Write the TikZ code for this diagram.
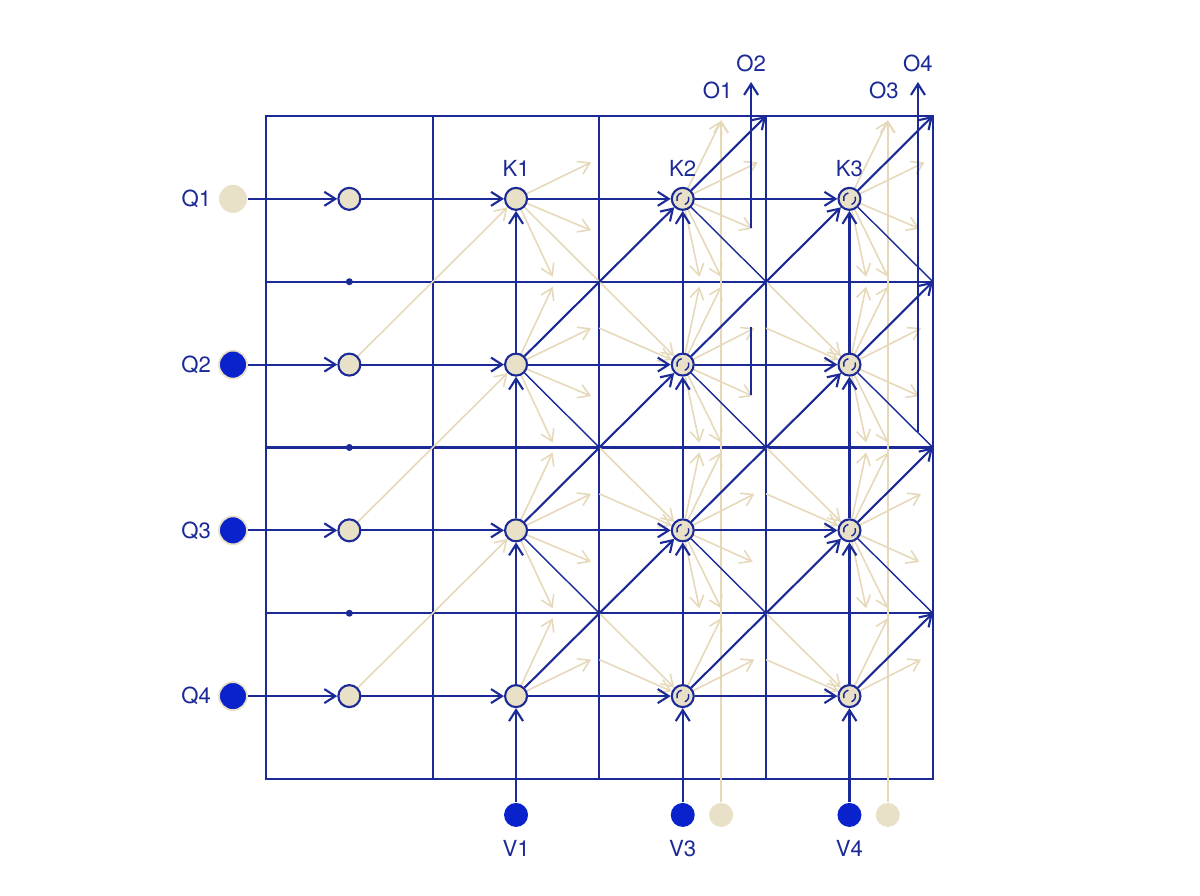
\documentclass[tikz,border=0pt]{standalone}
\usepackage{fontspec}
\setmainfont{TeX Gyre Heros}
\usetikzlibrary{arrows.meta, positioning, backgrounds}

\definecolor{navy}{HTML}{1B2A96}
\definecolor{deepblue}{HTML}{0A22CC}
\definecolor{sand}{HTML}{E9E0C8}
\definecolor{sandline}{HTML}{E6D9BA}

\begin{document}
\begin{tikzpicture}[x=1.667cm, y=1.6575cm,
	>={Straight Barb[length=1.1mm,width=1.4mm]},
	wire/.style={draw=navy, line width=0.6pt},
	thinwire/.style={draw=navy, line width=0.4pt},
	fan/.style={draw=sandline, line width=0.45pt},
	cell/.style={circle, draw=navy, fill=sand, line width=0.6pt, minimum size=2.2mm, inner sep=0pt},
	ring/.style={cell, path picture={
		\draw[navy, line width=0.4pt] ([shift={(100:0.6mm)}]path picture bounding box.center) arc[start angle=100, end angle=200, radius=0.6mm];
		\draw[navy, line width=0.4pt] ([shift={(-70:0.6mm)}]path picture bounding box.center) arc[start angle=-70, end angle=20, radius=0.6mm];}},
	qdot/.style={circle, minimum size=2.8mm, inner sep=0pt},
	vdot/.style={circle, minimum size=2.4mm, inner sep=0pt},
	joint/.style={circle, fill=navy, minimum size=0.7mm, inner sep=0pt},
	lbl/.style={text=navy, font=\fontsize{6.3}{7.5}\selectfont, inner sep=1pt}]

	\useasboundingbox (-1.5957,-0.7059) rectangle (5.6029,4.6998);

	% inputs on the left
	\node[qdot, fill=sand] (q1) at (-0.198,3.5) {};
	\node[qdot, fill=deepblue, draw=sand, line width=0.5pt] (q2) at (-0.198,2.5) {};
	\node[qdot, fill=deepblue, draw=sand, line width=0.5pt] (q3) at (-0.198,1.5) {};
	\node[qdot, fill=deepblue, draw=sand, line width=0.5pt] (q4) at (-0.198,0.5) {};
	\node[lbl, left=0.3mm of q1] (lq1) {Q1};
	\node[lbl, left=0.3mm of q2] (lq2) {Q2};
	\node[lbl, left=0.3mm of q3] (lq3) {Q3};
	\node[lbl, left=0.3mm of q4] (lq4) {Q4};

	% first column
	\node[cell] (a1) at (0.5,3.5) {};
	\node[cell] (a2) at (0.5,2.5) {};
	\node[cell] (a3) at (0.5,1.5) {};
	\node[cell] (a4) at (0.5,0.5) {};
	\node[joint] (j1) at (0.5,3) {};
	\node[joint] (j2) at (0.5,2) {};
	\node[joint] (j3) at (0.5,1) {};

	% K columns
	\node[cell] (b1) at (1.5,3.5) {};
	\node[cell] (b2) at (1.5,2.5) {};
	\node[cell] (b3) at (1.5,1.5) {};
	\node[cell] (b4) at (1.5,0.5) {};
	\node[ring] (c1) at (2.5,3.5) {};
	\node[ring] (c2) at (2.5,2.5) {};
	\node[ring] (c3) at (2.5,1.5) {};
	\node[ring] (c4) at (2.5,0.5) {};
	\node[ring] (d1) at (3.5,3.5) {};
	\node[ring] (d2) at (3.5,2.5) {};
	\node[ring] (d3) at (3.5,1.5) {};
	\node[ring] (d4) at (3.5,0.5) {};
	\node[lbl, above=0.6mm of b1] (k1) {K1};
	\node[lbl, above=0.6mm of c1] (k2) {K2};
	\node[lbl, above=0.6mm of d1] (k3) {K3};

	% inputs at the bottom
	\node[vdot, fill=deepblue] (v1) at (1.5,-0.217) {};
	\node[vdot, fill=deepblue] (v3) at (2.5,-0.217) {};
	\node[vdot, fill=deepblue] (v4) at (3.5,-0.217) {};
	\node[vdot, fill=sand] (w3) at (2.73,-0.217) {};
	\node[vdot, fill=sand] (w4) at (3.73,-0.217) {};
	\node[lbl, below=0.8mm of v1] (lv1) {V1};
	\node[lbl, below=0.8mm of v3] (lv3) {V3};
	\node[lbl, below=0.8mm of v4] (lv4) {V4};

	% outputs at the top
	\node[lbl] (lo1) at (2.71,4.157) {O1};
	\node[lbl] (lo2) at (2.91,4.32) {O2};
	\node[lbl] (lo3) at (3.707,4.157) {O3};
	\node[lbl] (lo4) at (3.911,4.32) {O4};

	\coordinate (o2top) at (2.91,4.205);
	\coordinate (o2bot) at (2.91,3.324);
	\coordinate (o2a) at (2.91,2.727);
	\coordinate (o2b) at (2.91,2.317);
	\coordinate (o4top) at (3.911,4.205);
	\coordinate (o4bot) at (3.911,2.094);
	\coordinate (w3top) at (2.73,3.976);
	\coordinate (w4top) at (3.73,3.976);

	\coordinate (m21) at (2,1);
	\coordinate (m22) at (2,2);
	\coordinate (m23) at (2,3);
	\coordinate (m31) at (3,1);
	\coordinate (m32) at (3,2);
	\coordinate (m33) at (3,3);
	\coordinate (m34) at (3,4);
	\coordinate (m41) at (4,1);
	\coordinate (m42) at (4,2);
	\coordinate (m43) at (4,3);
	\coordinate (m44) at (4,4);

	\begin{scope}[on background layer]
		% the grid
		\draw[wire] (0,0) rectangle (4,4);
		\draw[wire] (1,0) -- (1,4);
		\draw[wire] (2,0) -- (2,4);
		\draw[wire] (3,0) -- (3,4);
		\draw[wire] (0,1) -- (4,1);
		\draw[wire] (0,2) -- (4,2);
		\draw[wire] (0,3) -- (4,3);

		% sand lines
		\draw[fan, line width=0.6pt, ->] (w3) -- (w3top);
		\draw[fan, line width=0.6pt, ->] (w4) -- (w4top);
		\draw[fan, ->] (a2) -- (b1);
		\draw[fan, ->] (a3) -- (b2);
		\draw[fan, ->] (a4) -- (b3);
		\draw[fan] (b1) -- (m23);
		\draw[fan, ->] (m23) -- (c2);
		\draw[fan, ->] (m22) -- (c3);
		\draw[fan, ->] (m21) -- (c4);
		\draw[fan, ->] (m33) -- (d2);
		\draw[fan, ->] (m32) -- (d3);
		\draw[fan, ->] (m31) -- (d4);
		\draw[fan, <-] (c2) -- ++(-0.5,0.22);
		\draw[fan, <-] (c3) -- ++(-0.5,0.22);
		\draw[fan, <-] (c4) -- ++(-0.5,0.22);
		\draw[fan, <-] (d2) -- ++(-0.5,0.22);
		\draw[fan, <-] (d3) -- ++(-0.5,0.22);
		\draw[fan, <-] (d4) -- ++(-0.5,0.22);

		\foreach \dx/\dy in {0.45/0.22, 0.45/-0.19, 0.22/-0.47}
			\draw[fan, ->] (b1) -- ++(\dx,\dy);
		\foreach \n in {b2, b3}
			\foreach \dx/\dy in {0.22/0.47, 0.45/0.22, 0.45/-0.19, 0.22/-0.47}
				\draw[fan, ->] (\n) -- ++(\dx,\dy);
		\foreach \dx/\dy in {0.22/0.47, 0.45/0.22}
			\draw[fan, ->] (b4) -- ++(\dx,\dy);
		\foreach \n in {c1, d1}
			\foreach \dx/\dy in {0.23/0.47, 0.45/0.22, 0.42/-0.18, 0.1/-0.47, 0.23/-0.47}
				\draw[fan, ->] (\n) -- ++(\dx,\dy);
		\foreach \n in {c2, c3, d2, d3}
			\foreach \dx/\dy in {0.1/0.47, 0.23/0.47, 0.43/0.22, 0.42/-0.19, 0.1/-0.47, 0.23/-0.47}
				\draw[fan, ->] (\n) -- ++(\dx,\dy);
		\foreach \n in {c4, d4}
			\foreach \dx/\dy in {0.23/0.47, 0.43/0.22}
				\draw[fan, ->] (\n) -- ++(\dx,\dy);

		% blue connectors
		\foreach \r in {1,...,4} {
			\draw[wire, ->] (q\r) -- (a\r);
			\draw[wire, ->] (a\r) -- (b\r);
			\draw[wire, ->] (b\r) -- (c\r);
			\draw[wire, ->] (c\r) -- (d\r);
		}
		\draw[wire, ->] (v1) -- (b4);
		\draw[wire, ->] (b4) -- (b3);
		\draw[wire, ->] (b3) -- (b2);
		\draw[wire, ->] (b2) -- (b1);
		\draw[wire, ->] (v3) -- (c4);
		\draw[wire, ->] (c4) -- (c3);
		\draw[wire, ->] (c3) -- (c2);
		\draw[wire, ->] (c2) -- (c1);
		\draw[wire, ->] (v4) -- (d4);
		\draw[wire, ->] (d4) -- (d3);
		\draw[wire, ->] (d3) -- (d2);
		\draw[wire, ->] (d2) -- (d1);

		\draw[wire, ->] (b2) -- (c1);
		\draw[wire, ->] (b3) -- (c2);
		\draw[wire, ->] (b4) -- (c3);
		\draw[wire, ->] (c2) -- (d1);
		\draw[wire, ->] (c3) -- (d2);
		\draw[wire, ->] (c4) -- (d3);
		\draw[wire, ->] (c1) -- (m34);
		\draw[wire, ->] (d1) -- (m44);
		\draw[wire, ->] (d2) -- (m43);
		\draw[wire, ->] (d3) -- (m42);
		\draw[wire, ->] (d4) -- (m41);

		\draw[thinwire] (b2) -- (m22);
		\draw[thinwire] (b3) -- (m21);
		\draw[thinwire] (c1) -- (m33);
		\draw[thinwire] (c2) -- (m32);
		\draw[thinwire] (c3) -- (m31);
		\draw[thinwire] (d1) -- (m43);
		\draw[thinwire] (d2) -- (m42);
		\draw[thinwire] (d3) -- (m41);

		\draw[wire, ->] (o2bot) -- (o2top);
		\draw[wire] (o2b) -- (o2a);
		\draw[wire, ->] (o4bot) -- (o4top);
	\end{scope}
\end{tikzpicture}
\end{document}
